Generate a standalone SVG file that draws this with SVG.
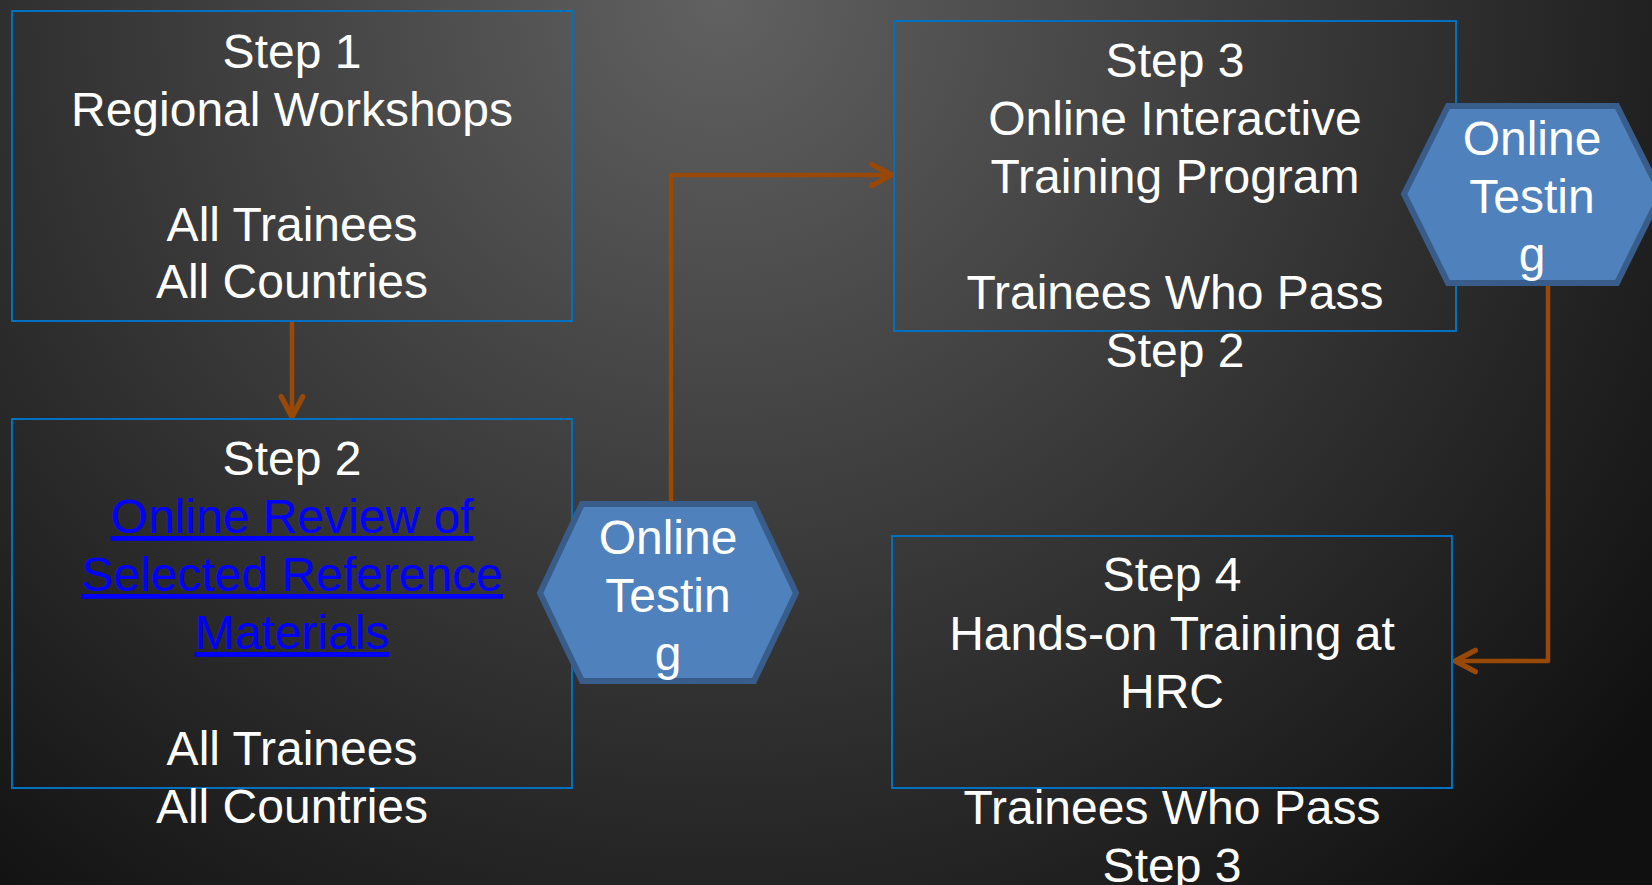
<svg xmlns="http://www.w3.org/2000/svg" width="1652" height="885" viewBox="0 0 1652 885">
<defs>
<radialGradient id="bg" gradientUnits="userSpaceOnUse" cx="720" cy="0" r="1180">
<stop offset="0" stop-color="#616161"/>
<stop offset="0.55" stop-color="#343434"/>
<stop offset="1" stop-color="#101010"/>
</radialGradient>
<marker id="arr" markerUnits="userSpaceOnUse" markerWidth="30" markerHeight="30" viewBox="-24 -13 28 26" refX="0" refY="0" orient="auto">
<path d="M-19,-10 L0,0 L-19,10" fill="none" stroke="#984807" stroke-width="5" stroke-linecap="round" stroke-linejoin="round"/>
</marker>
</defs>
<style>
.box{fill:none;stroke:#0070C0;stroke-width:2}
.hex{fill:#4F81BD;stroke:#385D8A;stroke-width:6}
.t{font-family:"Liberation Sans",Arial,sans-serif;font-size:48px;fill:#FFFFFF;text-anchor:middle}
.link{fill:#0000FF;text-decoration:underline}
.conn{fill:none;stroke:#984807;stroke-width:4.5;stroke-linejoin:round}
</style>
<rect width="1652" height="885" fill="url(#bg)"/>
<g id="connectors">
<path class="conn" d="M292,321 L292,417" marker-end="url(#arr)"/>
<path class="conn" d="M671,504 L671,175 L892,175" marker-end="url(#arr)"/>
<path class="conn" d="M1548,283 L1548,661 L1455,661" marker-end="url(#arr)"/>
</g>
<g id="step1">
<rect class="box" x="12" y="11" width="560" height="310"/>
<text class="t" x="292" y="68">Step 1</text>
<text class="t" x="292" y="126">Regional Workshops</text>
<text class="t" x="292" y="241">All Trainees</text>
<text class="t" x="292" y="298">All Countries</text>
</g>
<g id="step2">
<rect class="box" x="12" y="419" width="560" height="369"/>
<text class="t" x="292" y="475">Step 2</text>
<text class="t link" x="292" y="533">Online Review of</text>
<text class="t link" x="292" y="591">Selected Reference</text>
<text class="t link" x="292" y="649">Materials</text>
<text class="t" x="292" y="765">All Trainees</text>
<text class="t" x="292" y="823">All Countries</text>
</g>
<g id="test1">
<polygon class="hex" points="540,593 582,504 754,504 796,593 754,681 582,681"/>
<text class="t" x="668" y="554">Online</text>
<text class="t" x="668" y="612">Testin</text>
<text class="t" x="668" y="670">g</text>
</g>
<g id="step3">
<rect class="box" x="894" y="21" width="562" height="310"/>
<text class="t" x="1175" y="77">Step 3</text>
<text class="t" x="1175" y="135">Online Interactive</text>
<text class="t" x="1175" y="193">Training Program</text>
<text class="t" x="1175" y="309">Trainees Who Pass</text>
<text class="t" x="1175" y="367">Step 2</text>
</g>
<g id="test2">
<polygon class="hex" points="1404,194 1448,106 1617,106 1661,194 1617,283 1448,283"/>
<text class="t" x="1532" y="155">Online</text>
<text class="t" x="1532" y="213">Testin</text>
<text class="t" x="1532" y="271">g</text>
</g>
<g id="step4">
<rect class="box" x="892" y="536" width="560" height="252"/>
<text class="t" x="1172" y="591">Step 4</text>
<text class="t" x="1172" y="650">Hands-on Training at</text>
<text class="t" x="1172" y="708">HRC</text>
<text class="t" x="1172" y="824">Trainees Who Pass</text>
<text class="t" x="1172" y="882">Step 3</text>
</g>
</svg>
